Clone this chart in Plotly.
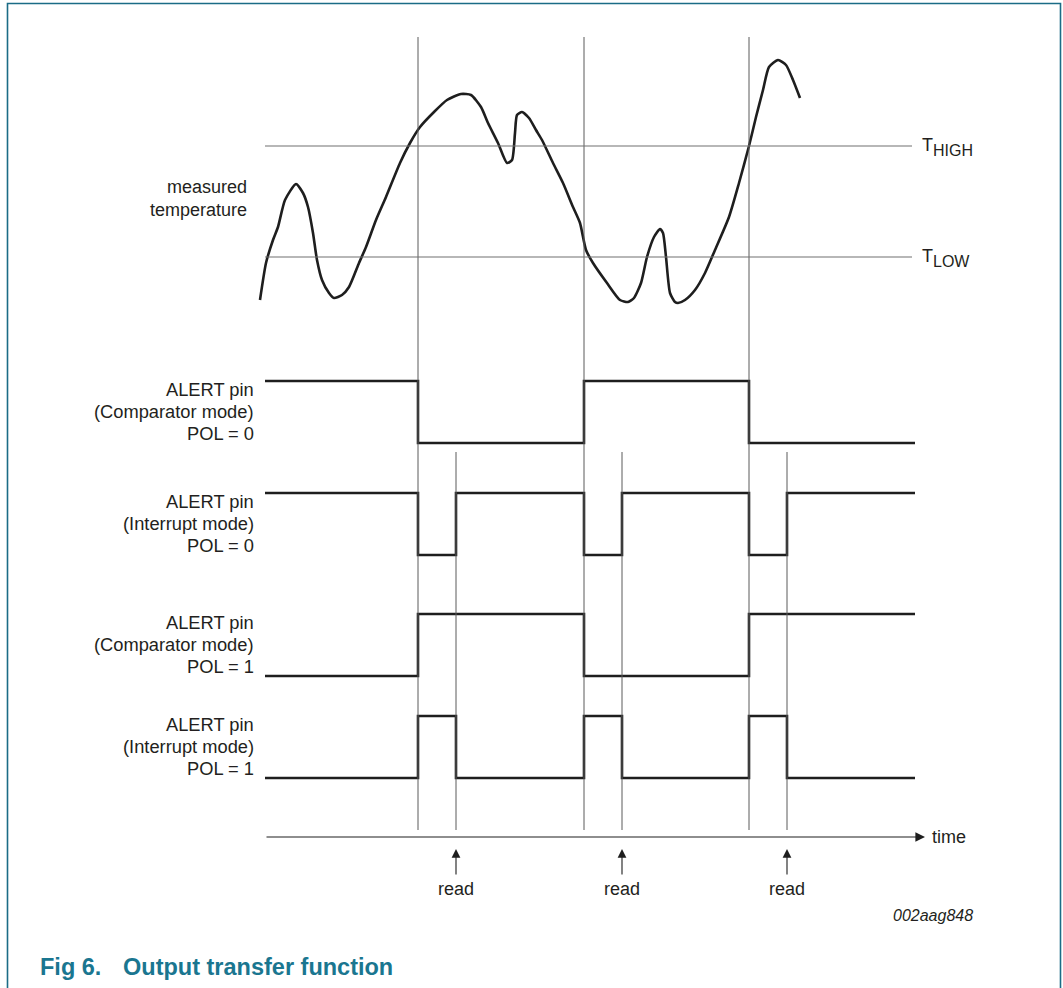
import plotly.graph_objects as go

# ---------------- data (time / level values) ----------------
# measured temperature curve (time, level)  -- level in drawing units (down = larger)
temp_t = [260, 266, 273, 278, 285, 296, 303, 308, 313, 317, 322, 329, 334, 342, 349, 359,
          366, 376, 386, 400, 410, 420, 434, 447, 461, 471, 481, 488, 498, 507, 512, 515,
          517, 522, 529, 536, 542, 553, 563, 573, 580, 586, 593, 607, 620, 628, 634, 641,
          647, 654, 660, 663, 666, 670, 675, 678, 685, 695, 705, 715, 729, 739, 749, 756,
          763, 769, 778, 786, 793, 800]
temp_v = [300, 263, 240, 227, 200, 184, 193, 207, 233, 260, 280, 293, 298, 295, 287, 263,
          247, 220, 197, 163, 143, 127, 112, 100, 94, 95, 107, 123, 143, 163, 160, 133,
          115, 112, 118, 130, 140, 163, 183, 207, 223, 250, 263, 283, 300, 302, 298, 283,
          257, 237, 229, 233, 257, 293, 302, 303, 300, 290, 273, 250, 217, 183, 146, 117,
          90, 67, 60, 65, 80, 98]

T_HIGH = 146
T_LOW = 257
t_start, t_end = 265, 915

alert_times = [418, 584, 749]   # threshold events (THIGH, TLOW, THIGH)
read_times = [456, 622, 787]    # register reads

row_names = ["Comparator", "Interrupt", "Comparator", "Interrupt"]
row_pol = [0, 0, 1, 1]
row_top = [381, 493, 614, 716]
row_swing = 62

row_labels = [["ALERT pin", "(Comparator mode)", "POL = 0"],
              ["ALERT pin", "(Interrupt mode)", "POL = 0"],
              ["ALERT pin", "(Comparator mode)", "POL = 1"],
              ["ALERT pin", "(Interrupt mode)", "POL = 1"]]
read_label = "read"
time_label = "time"
fig_code = "002aag848"
title_num = "Fig 6."
title_text = "Output transfer function"

# ---------------- styling ----------------
FONT = "Liberation Sans, Arial, Helvetica, sans-serif"
TXT = "#231f20"
LINE = "#1e1e1e"
TEAL = "#1a7690"
BORDER = "#1b6c86"

fig = go.Figure()


def active_comp(t):
    # comparator active between THIGH crossing and TLOW crossing
    return (alert_times[0] <= t < alert_times[1]) or (t >= alert_times[2])


def step_series(kind, pol, top):
    edges = sorted(set([t_start, t_end] + alert_times + (read_times if kind == "Interrupt" else [])))
    xs, ys = [], []
    for i in range(len(edges) - 1):
        a, b = edges[i], edges[i + 1]
        if kind == "Comparator":
            act = active_comp(a)
        else:
            act = any(at <= a < rt for at, rt in zip(alert_times, read_times))
        high = act if pol == 1 else not act
        y = top if high else top + row_swing
        xs += [a, b]
        ys += [y, y]
    return xs, ys


# thin vertical event lines
for t in alert_times:
    fig.add_shape(type="line", x0=t, x1=t, y0=37, y1=830, xref="x", yref="y",
                  line=dict(color="#5a5a5a", width=1))
for t in read_times:
    fig.add_shape(type="line", x0=t, x1=t, y0=452, y1=830, xref="x", yref="y",
                  line=dict(color="#5a5a5a", width=1))

# thresholds
for ty in (T_HIGH, T_LOW):
    fig.add_shape(type="line", x0=265, x1=912, y0=ty, y1=ty, xref="x", yref="y",
                  line=dict(color="#707070", width=1.2))

# temperature curve
fig.add_trace(go.Scatter(x=temp_t, y=temp_v, mode="lines",
                         line=dict(color=LINE, width=2.6, shape="spline", smoothing=0.6),
                         hoverinfo="skip", showlegend=False))

# ALERT pin waveforms
for kind, pol, top in zip(row_names, row_pol, row_top):
    xs, ys = step_series(kind, pol, top)
    fig.add_trace(go.Scatter(x=xs, y=ys, mode="lines",
                             line=dict(color=LINE, width=2.6),
                             hoverinfo="skip", showlegend=False))

ann = []


def txt(x, y, s, size=18, xanchor="right", color=TXT, bold=False, italic=False):
    if bold:
        s = "<b>" + s + "</b>"
    if italic:
        s = "<i>" + s + "</i>"
    ann.append(dict(x=x, y=y, xref="x", yref="y", text=s, showarrow=False,
                    xanchor=xanchor, yanchor="middle",
                    font=dict(family=FONT, size=size, color=color)))


# row labels
for top, lines in zip(row_top, row_labels):
    for k, s in enumerate(lines):
        txt(256, top + 8 + 22 * k, s, size=18.3)

txt(249, 187, "measured")
txt(249, 210, "temperature")

# threshold labels
txt(920, 145, "T", size=18, xanchor="left")
txt(931, 150, "HIGH", size=16, xanchor="left")
txt(920, 256, "T", size=18, xanchor="left")
txt(931, 261, "LOW", size=16, xanchor="left")

# time axis with arrow
ann.append(dict(x=925, y=837, ax=265, ay=837, xref="x", yref="y", axref="x", ayref="y",
                showarrow=True, arrowhead=2, arrowsize=1.6, arrowwidth=1.2,
                arrowcolor=LINE, text=""))
txt(930, 837, time_label, xanchor="left")

# read arrows
for t in read_times:
    ann.append(dict(x=t, y=849, ax=t, ay=876, xref="x", yref="y", axref="x", ayref="y",
                    showarrow=True, arrowhead=2, arrowsize=1.6, arrowwidth=1.1,
                    arrowcolor=LINE, text=""))
    txt(t, 889, read_label, xanchor="center")

txt(975, 915, fig_code, size=16, italic=True)

# title
txt(38, 967, title_num, size=23.5, xanchor="left", color=TEAL, bold=True)
txt(121, 967, title_text, size=23.5, xanchor="left", color=TEAL, bold=True)

# page border
fig.add_shape(type="path", path="M 7.5 990 L 7.5 3.5 L 1060.5 3.5 L 1060.5 990",
              xref="x", yref="y", line=dict(color=BORDER, width=1.6))

fig.update_layout(
    width=1063, height=988,
    margin=dict(l=0, r=0, t=0, b=0),
    paper_bgcolor="white", plot_bgcolor="white",
    xaxis=dict(range=[0, 1063], visible=False, fixedrange=True),
    yaxis=dict(range=[988, 0], visible=False, fixedrange=True),
    annotations=ann,
    showlegend=False,
    hovermode=False,
)

fig.write_html("out.html",
               config={"displayModeBar": False, "staticPlot": True},
               post_script="document.body.style.margin='0';document.body.style.overflow='hidden';")
